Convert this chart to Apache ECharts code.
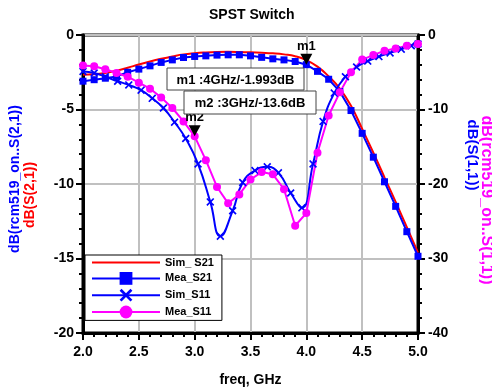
<!DOCTYPE html>
<html><head><meta charset="utf-8">
<script src="https://cdn.jsdelivr.net/npm/echarts@6/dist/echarts.min.js"></script>
<style>html,body{margin:0;padding:0;background:#fff}#c{width:492px;height:392px}</style>
</head><body><div id="c"></div>
<script>
// ---- data ----
const freq = [2.0,2.1,2.2,2.3,2.4,2.5,2.6,2.7,2.8,2.9,3.0,3.1,3.2,3.3,3.4,3.5,3.6,3.7,3.8,3.9,4.0,4.1,4.2,4.3,4.4,4.5,4.6,4.7,4.8,4.9,5.0];
const simS21 = [-2.67,-2.64,-2.55,-2.4,-2.2,-1.98,-1.78,-1.6,-1.44,-1.3,-1.22,-1.17,-1.14,-1.13,-1.14,-1.16,-1.19,-1.23,-1.3,-1.42,-1.68,-2.12,-2.78,-3.6,-4.75,-6.3,-7.9,-9.55,-11.2,-12.9,-14.6];
const meaS21 = [-3.1,-3.0,-2.9,-2.78,-2.5,-2.29,-2.07,-1.84,-1.67,-1.51,-1.44,-1.4,-1.35,-1.33,-1.33,-1.4,-1.5,-1.6,-1.67,-1.78,-1.993,-2.44,-2.97,-3.8,-5.07,-6.6,-8.2,-9.85,-11.5,-13.2,-14.85];
const simS11Freq = [2.0,2.1,2.2,2.31,2.41,2.52,2.62,2.72,2.82,2.92,3.03,3.14,3.23,3.34,3.43,3.54,3.65,3.75,3.86,3.96,4.06,4.15,4.25,4.35,4.45,4.55,4.65,4.75,4.85,4.94,5.0];
const simS11 = [-4.9,-5.1,-5.6,-6.2,-6.7,-7.4,-8.5,-9.8,-11.7,-13.9,-17.3,-22.4,-27.0,-23.6,-19.8,-18.2,-17.7,-18.5,-21.2,-23.2,-17.3,-11.6,-7.8,-5.6,-4.3,-3.5,-2.9,-2.4,-1.9,-1.45,-1.2];
const meaS11 = [-4.1,-4.2,-4.6,-5.1,-5.6,-6.4,-7.2,-8.4,-9.8,-11.6,-13.6,-16.8,-20.4,-22.6,-21.4,-19.4,-18.4,-18.7,-20.7,-25.6,-23.9,-15.8,-10.8,-7.7,-5.0,-3.3,-2.7,-2.1,-1.8,-1.45,-1.2];
const seriesNames = ['Sim_ S21','Mea_S21','Sim_S11','Mea_S11'];
const marker1 = {name:'m1', freq:4.0, value:-1.993, text:'m1 :4GHz/-1.993dB'};
const marker2 = {name:'m2', freq:3.0, value:-13.6, text:'m2 :3GHz/-13.6dB'};

// ---- chart ----
const FONT = '"Liberation Sans", Arial, sans-serif';
const xSym = 'path://M0,1.5L1.5,0L5,3.5L8.5,0L10,1.5L6.5,5L10,8.5L8.5,10L5,6.5L1.5,10L0,8.5L3.5,5Z';
const triSym = 'path://M0,0L12,0L6,11Z';
const lbl = {fontFamily:FONT,fontSize:14,fontWeight:'bold',color:'#000'};
const chart = echarts.init(document.getElementById('c'));
function mp(m){
  return {symbol:triSym, symbolSize:[12,11], symbolOffset:[0,-5.5], itemStyle:{color:'#000'},
    label:{show:true, position:'top', distance:1, formatter:m.name, color:'#000', fontFamily:FONT, fontSize:13, fontWeight:'bold'},
    data:[{coord:[m.freq, m.value]}]};
}
function box(x,y,w,h,text){
  return {type:'group', z:100, children:[
    {type:'rect', z:100, shape:{x:x,y:y,width:w,height:h}, style:{fill:'#fff', stroke:'#444', lineWidth:1}},
    {type:'text', z:101, x:x+w/2, y:y+h/2+1, style:{text:text, align:'center', verticalAlign:'middle', font:'bold 13px '+FONT, fill:'#000'}}
  ]};
}
function vtext(x,y,rot,text,color,size){
  return {type:'text', x:x, y:y, rotation:rot, z:100,
    style:{text:text, align:'center', verticalAlign:'middle', font:'bold '+size+'px '+FONT, fill:color}};
}
const option = {
  animation:false,
  backgroundColor:'#fff',
  title:{text:'SPST Switch', left:204, top:3, textStyle:{fontFamily:FONT,fontSize:14,fontWeight:'bold',color:'#000'}},
  grid:{left:83,right:74,top:35,bottom:57,show:true,borderColor:'#000',borderWidth:3,backgroundColor:'#fff'},
  legend:{orient:'vertical', left:85, top:255, itemWidth:68, itemHeight:16, itemGap:4, padding:[2,8,2,6],
    backgroundColor:'#fff', borderColor:'#000', borderWidth:1,
    textStyle:{fontFamily:FONT,fontSize:11,fontWeight:'bold',color:'#000'},
    data:[{name:seriesNames[0], icon:'path://M0,0H68V2H0Z'}, seriesNames[1], seriesNames[2], seriesNames[3]]},
  xAxis:{type:'value', min:2, max:5, interval:0.5,
    axisLine:{onZero:false,lineStyle:{color:'#000',width:3}},
    axisTick:{length:7,lineStyle:{color:'#000',width:2}},
    minorTick:{show:true,splitNumber:5,length:4,lineStyle:{color:'#000',width:2}},
    splitLine:{show:true,lineStyle:{color:'#c0c0c0',width:2}},
    axisLabel:Object.assign({margin:12, formatter:v=>v.toFixed(1)}, lbl),
    name:'freq, GHz', nameLocation:'middle', nameGap:40, nameTextStyle:lbl},
  yAxis:[
    {type:'value', min:-20, max:0, interval:5, position:'left',
      axisLine:{show:true,lineStyle:{color:'#000',width:3}},
      axisTick:{length:7,lineStyle:{color:'#000',width:2}},
      minorTick:{show:true,splitNumber:5,length:4,lineStyle:{color:'#000',width:2}},
      splitLine:{show:true,lineStyle:{color:'#c0c0c0',width:2}},
      axisLabel:Object.assign({margin:9}, lbl)},
    {type:'value', min:-40, max:0, interval:10, position:'right',
      axisLine:{show:true,lineStyle:{color:'#000',width:3}},
      axisTick:{length:7,lineStyle:{color:'#000',width:2}},
      minorTick:{show:true,splitNumber:5,length:4,lineStyle:{color:'#000',width:2}},
      splitLine:{show:false},
      axisLabel:Object.assign({margin:10}, lbl)}
  ],
  graphic:[
    box(167,68,137,22,marker1.text),
    box(184,91,132,23,marker2.text),
    vtext(15,179,Math.PI/2,'dB(rcm519_on..S(2,1))','#0000ff',14),
    vtext(30,195,Math.PI/2,'dB(S(2,1))','#ff0000',14),
    vtext(472,155,-Math.PI/2,'dB(S(1,1))','#0000ff',15),
    vtext(486,200,-Math.PI/2,'dB(rcm519_on..S(1,1))','#ff00ff',16)
  ],
  series:[
    {name:seriesNames[0], type:'line', smooth:true, symbol:'none', data:freq.map((f,i)=>[f,simS21[i]]),
      lineStyle:{color:'#ff0000',width:2}, itemStyle:{color:'#ff0000'}},
    {name:seriesNames[1], type:'line', symbol:'rect', symbolSize:7, data:freq.map((f,i)=>[f,meaS21[i]]),
      lineStyle:{color:'#0000ff',width:2}, itemStyle:{color:'#0000ff'}, markPoint:mp(marker1)},
    {name:seriesNames[2], type:'line', yAxisIndex:1, smooth:true, symbol:xSym, symbolSize:8, data:simS11Freq.map((f,i)=>[f,simS11[i]]),
      lineStyle:{color:'#0000ff',width:2}, itemStyle:{color:'#0000ff'}},
    {name:seriesNames[3], type:'line', yAxisIndex:1, symbol:'circle', symbolSize:8, data:freq.map((f,i)=>[f,meaS11[i]]),
      lineStyle:{color:'#ff00ff',width:2}, itemStyle:{color:'#ff00ff'}, markPoint:mp(marker2)}
  ]
};
chart.setOption(option);
</script></body></html>
